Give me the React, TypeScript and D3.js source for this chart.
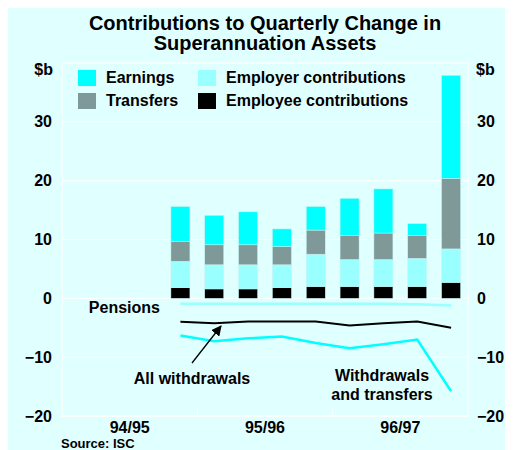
import React, { useEffect, useRef } from 'react'
import * as d3 from 'd3'

// quarters 94/95 Q1 .. 96/97 Q4
const quarters = ['Sep-94', 'Dec-94', 'Mar-95', 'Jun-95', 'Sep-95', 'Dec-95', 'Mar-96', 'Jun-96', 'Sep-96', 'Dec-96', 'Mar-97', 'Jun-97']
const years = ['94/95', '95/96', '96/97']
const barQuarters = ['Jun-95', 'Sep-95', 'Dec-95', 'Mar-96', 'Jun-96', 'Sep-96', 'Dec-96', 'Mar-97', 'Jun-97']

// stacked from the bottom
const employee = [1.8, 1.6, 1.6, 1.8, 2.0, 2.0, 2.0, 2.0, 2.7]
const employer = [4.5, 4.1, 4.1, 3.9, 5.5, 4.6, 4.6, 4.8, 5.7]
const transfers = [3.4, 3.4, 3.4, 3.1, 4.1, 4.1, 4.5, 3.9, 12.0]
const earnings = [5.9, 5.0, 5.6, 3.0, 4.0, 6.3, 7.5, 2.0, 17.5]

const pensions = [-0.9, -0.9, -0.9, -0.9, -0.9, -0.9, -0.9, -1.0, -1.2]
const allWithdrawals = [-4.0, -4.25, -3.95, -3.95, -3.95, -4.6, -4.25, -3.95, -5.0]
const withdrawalsTransfers = [-6.3, -7.3, -6.8, -6.5, -7.6, -8.5, -7.8, -7.0, -15.8]

const yTicks = [-20, -10, 0, 10, 20, 30]

const colors = {
  employee: '#000000',
  employer: '#99FFFF',
  transfers: '#7F9999',
  earnings: '#00FFFF'
}

export default function App() {
  const ref = useRef<SVGSVGElement>(null)

  useEffect(() => {
    const root = d3.select(ref.current)
    root.selectAll('*').remove()
    const font = 'Arial, Liberation Sans, sans-serif'

    root.append('rect').attr('width', 505).attr('height', 442).attr('fill', '#E0FFFF')
    // work in page coordinates
    const svg = root.append('g').attr('transform', 'translate(-8,-8)').style('font-family', font).style('font-weight', 'bold')

    const left = 62, right = 468, top = 63, bottom = 416

    const x = d3.scaleBand().domain(quarters).range([left, right]).padding(0)
    const xc = (q: string) => (x(q) as number) + x.bandwidth() / 2
    const y = d3.scaleLinear().domain([-20, 40]).range([bottom, top])

    // title
    svg.append('text').attr('x', 265).attr('y', 30).attr('text-anchor', 'middle')
      .style('font-size', '20px').text('Contributions to Quarterly Change in')
    svg.append('text').attr('x', 265).attr('y', 50).attr('text-anchor', 'middle')
      .style('font-size', '20px').text('Superannuation Assets')

    // grid
    const grid = svg.append('g').attr('stroke', '#ffffff').attr('stroke-width', 1)
    yTicks.forEach(t => {
      grid.append('line').attr('x1', left).attr('x2', right).attr('y1', y(t)).attr('y2', y(t))
    })
    ;[4, 8].forEach(i => {
      const gx = x(quarters[i]) as number
      grid.append('line').attr('x1', gx).attr('x2', gx).attr('y1', bottom).attr('y2', bottom - 8)
    })
    svg.append('rect').attr('x', left).attr('y', top).attr('width', right - left).attr('height', bottom - top)
      .attr('fill', 'none').attr('stroke', '#ffffff').attr('stroke-width', 1.2)

    // axes labels left and right
    const axisL = d3.axisLeft(y).tickValues(yTicks).tickSize(0).tickPadding(10)
    const gl = svg.append('g').attr('transform', 'translate(' + left + ',0)').call(axisL)
    gl.select('.domain').remove()
    gl.selectAll('text').style('font-size', '16px').style('font-family', font).style('font-weight', 'bold').attr('fill', '#000')

    const axisR = d3.axisRight(y).tickValues(yTicks).tickSize(0).tickPadding(9)
    const gr = svg.append('g').attr('transform', 'translate(' + right + ',0)').call(axisR)
    gr.select('.domain').remove()
    gr.selectAll('text').style('font-size', '16px').style('font-family', font).style('font-weight', 'bold').attr('fill', '#000')

    svg.append('text').attr('x', 53).attr('y', 75).attr('text-anchor', 'end').style('font-size', '16px').text('$b')
    svg.append('text').attr('x', 476).attr('y', 75).style('font-size', '16px').text('$b')

    // x year labels
    const yearScale = d3.scaleBand().domain(years).range([left, right])
    years.forEach(yr => {
      svg.append('text').attr('x', (yearScale(yr) as number) + yearScale.bandwidth() / 2).attr('y', 433)
        .attr('text-anchor', 'middle').style('font-size', '16px').text(yr)
    })

    svg.append('text').attr('x', 61).attr('y', 448).style('font-size', '13px').text('Source: ISC')

    // stacked bars
    const table = barQuarters.map((q, i) => ({
      q, employee: employee[i], employer: employer[i], transfers: transfers[i], earnings: earnings[i]
    }))
    const keys = ['employee', 'employer', 'transfers', 'earnings']
    const series = d3.stack<any>().keys(keys)(table)
    const bw = 19
    svg.append('g').selectAll('g').data(series).enter().append('g')
      .attr('fill', (d: any) => (colors as any)[d.key])
      .selectAll('rect').data((d: any) => d).enter().append('rect')
      .attr('x', (d: any) => xc(d.data.q) - bw / 2)
      .attr('width', bw)
      .attr('y', (d: any) => y(d[1]))
      .attr('height', (d: any) => y(d[0]) - y(d[1]))
      .attr('stroke', '#c8f4f4').attr('stroke-width', 0.5)

    // lines
    const line = d3.line<number>().x((d, i) => xc(barQuarters[i])).y(d => y(d))
    svg.append('path').datum(pensions).attr('d', line).attr('fill', 'none').attr('stroke', '#99FFFF').attr('stroke-width', 2.5)
    svg.append('path').datum(allWithdrawals).attr('d', line).attr('fill', 'none').attr('stroke', '#000').attr('stroke-width', 2)
    svg.append('path').datum(withdrawalsTransfers).attr('d', line).attr('fill', 'none').attr('stroke', '#00FFFF').attr('stroke-width', 2.5)

    // annotations
    svg.append('text').attr('x', 160).attr('y', 313).attr('text-anchor', 'end').style('font-size', '16px').text('Pensions')
    svg.append('text').attr('x', 192).attr('y', 384).attr('text-anchor', 'middle').style('font-size', '16px').text('All withdrawals')
    svg.append('text').attr('x', 382).attr('y', 381).attr('text-anchor', 'middle').style('font-size', '16px').text('Withdrawals')
    svg.append('text').attr('x', 382).attr('y', 400).attr('text-anchor', 'middle').style('font-size', '16px').text('and transfers')

    // arrow
    svg.append('defs').append('marker').attr('id', 'arrow').attr('viewBox', '0 0 10 10')
      .attr('refX', 9).attr('refY', 5).attr('markerWidth', 8).attr('markerHeight', 8).attr('orient', 'auto')
      .append('path').attr('d', 'M0,0 L10,5 L0,10 z').attr('fill', '#000')
    svg.append('line').attr('x1', 192).attr('y1', 363).attr('x2', 221).attr('y2', 326)
      .attr('stroke', '#000').attr('stroke-width', 1.3).attr('marker-end', 'url(#arrow)')

    // legend
    const legend = [
      { key: 'earnings', label: 'Earnings', lx: 78, ly: 70 },
      { key: 'transfers', label: 'Transfers', lx: 78, ly: 93 },
      { key: 'employer', label: 'Employer contributions', lx: 198, ly: 70 },
      { key: 'employee', label: 'Employee contributions', lx: 198, ly: 93 }
    ]
    legend.forEach(l => {
      svg.append('rect').attr('x', l.lx).attr('y', l.ly).attr('width', 18).attr('height', 16).attr('fill', (colors as any)[l.key])
      svg.append('text').attr('x', l.lx + 28).attr('y', l.ly + 13).style('font-size', '16px').text(l.label)
    })
  }, [])

  return <svg ref={ref} width={505} height={442} style={{ display: 'block' }}></svg>
}
